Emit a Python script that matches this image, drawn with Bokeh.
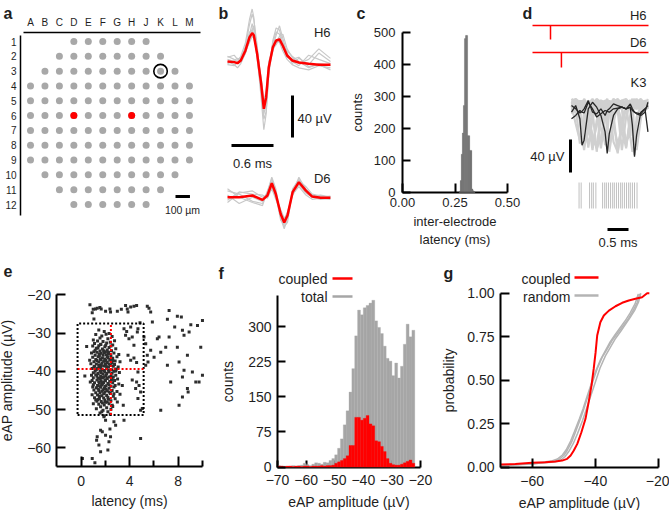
from bokeh.plotting import figure
from bokeh.models import Range1d, LinearAxis, FixedTicker, Label, PrintfTickFormatter
from bokeh.layouts import row, column
from bokeh.embed import file_html
from bokeh.resources import INLINE

FONT = "Liberation Sans"
INK = "#1e1e1e"
RED = "#ff0000"

# ---------------- data: panel a (MEA layout) ----------------
mea_columns = ["A", "B", "C", "D", "E", "F", "G", "H", "J", "K", "L", "M"]
mea_rows = [1, 2, 3, 4, 5, 6, 7, 8, 9, 10, 11, 12]
row_first_col = [3, 2, 1, 0, 0, 0, 0, 0, 0, 1, 2, 3]
row_last_col = [8, 9, 10, 11, 11, 11, 11, 11, 11, 10, 9, 8]
stim_sites = [("D", 6), ("H", 6)]
ref_site = ("K", 3)
pitch_um = 100
scalebar_um = 100

# ---------------- data: panel b (waveforms) ----------------
h6_t = [0.0, 0.095, 0.143, 0.19, 0.257, 0.314, 0.352, 0.376, 0.424, 0.481, 0.519, 0.552,
        0.59, 0.648, 0.695, 0.743, 0.79, 0.852, 0.924, 1.019, 1.16, 1.305, 1.471]
h6_mean = [0, -0.6, -1.6, 1, 10.5, 23, 27, 25, 7, -21, -45, -34, -5.4, 13.6, 20, 21, 15, 5.7, 1, -1, -2.2, -3, -3]
h6_trials = [
    [2, 0, -2, 3, 15, 35, 45, 40, 15, -25, -55, -48, -10, 20, 32, 30, 18, 6, 0, -4, 6, 2, -2],
    [-3, -4, -1, 0, 8, 20, 30, 34, 12, -18, -40, -30, 0, 12, 16, 22, 18, 10, 5, 0, -6, -2, -4],
    [5, 2, 0, 5, 18, 40, 50, 42, 5, -35, -65, -50, -12, 15, 25, 34, 22, 8, -2, 3, -3, 8, 0],
    [0, -3, -6, -2, 8, 25, 36, 30, 2, -28, -50, -40, -5, 10, 20, 18, 10, 2, -3, -6, -8, -4, -6],
    [-2, 1, 3, 1, 12, 28, 30, 25, 6, -15, -38, -28, -2, 14, 18, 24, 26, 12, 4, -2, 2, 12, 3],
    [4, 6, 2, 4, 10, 18, 24, 22, 10, -20, -45, -40, -8, 18, 28, 26, 14, 4, 2, 4, -5, -3, -8],
]
d6_t = [0, 0.167, 0.357, 0.5, 0.57, 0.633, 0.69, 0.76, 0.81, 0.857, 0.93, 1.02, 1.12, 1.21, 1.33, 1.47]
d6_mean = [0, 0, 1.6, -2.5, 1.6, 13.3, 3, -16, -24, -17.5, 4.8, 14.3, 6.3, 0.6, -0.6, -0.6]
d6_trials = [
    [6, 3, -4, -6, 4, 18, 5, -20, -30, -20, 8, 17, 8, 2, 0, 1],
    [-5, 4, 6, 0, 2, 10, 0, -12, -20, -15, 2, 12, 4, 0, -2, -1],
    [2, -6, 0, -4, 5, 19, 8, -18, -28, -24, 6, 16, 10, 3, 1, 0],
    [-3, 5, 3, 2, -1, 8, -2, -14, -22, -14, 3, 10, 2, -2, -1, -2],
    [8, 0, -5, -8, 6, 15, 2, -22, -26, -18, 4, 19, 7, 1, 2, 0],
]

# ---------------- data: panel c (latency histogram) ----------------
c_latency = [0.2725, 0.2775, 0.2825, 0.2875, 0.2925, 0.2975, 0.3025, 0.3075, 0.3125, 0.3175,
             0.3225, 0.3275, 0.3325, 0.3375, 0.3425]
c_counts = [5, 38, 120, 186, 272, 480, 490, 490, 178, 178, 132, 132, 12, 6, 4]
c_bin = 0.005

# ---------------- data: panel d (spike-triggered traces) ----------------
h6_spike_t = -0.50
d6_spike_t = -0.24
k3_t = [0.0, 0.1, 0.2, 0.25, 0.3, 0.4, 0.5, 0.6, 0.7, 0.8, 0.85, 0.9, 1.0, 1.1, 1.2, 1.3,
        1.4, 1.45, 1.5, 1.55, 1.65, 1.75, 1.82]
k3_gray = [
    [8, 4, -40, -30, -5, 6, 10, 4, 8, 2, 6, 10, 4, 8, 6, 12, 4, 8, 2, 6, 4, 10, 8],
    [2, 8, 4, 6, 0, -45, -10, 6, 10, 4, 8, 6, 2, 10, 8, 4, 6, 2, 8, 4, 10, 6, 2],
    [-4, 2, 6, 2, 8, -10, -48, -12, 4, 8, 2, 6, 10, 4, 2, 8, 10, 6, 4, 8, 2, 4, 6],
    [6, 10, 2, 8, 4, 8, 0, -50, -8, 6, 4, 2, 8, 6, 10, 4, 2, 6, 10, 4, 6, 8, 4],
    [10, 4, 8, 10, 6, 2, 8, 4, 0, -42, -30, 0, 8, 4, 6, 10, 6, 4, 2, 8, 10, 4, 6],
    [0, 6, 10, 4, 2, 10, 6, 8, 6, 2, -20, -50, -15, 8, 4, 6, 8, 10, 6, 2, 8, 6, 10],
    [4, 2, 6, 8, 10, 4, 2, 10, 4, 8, 6, 4, -5, -52, -10, 6, 2, 8, 4, 10, 2, 8, 4],
    [8, 10, 4, 2, 6, 6, 4, 2, 8, 6, 10, 8, 4, 0, -48, -8, 10, 4, 8, 6, 4, 2, 8],
    [2, 4, 8, 6, 10, 2, 10, 6, 2, 10, 4, 6, 8, 6, 2, -46, -6, 6, 10, 4, 8, 10, 2],
    [6, 8, 2, 4, 6, 10, 4, 8, 6, 4, 8, 2, 6, 10, 8, 2, 4, -20, -54, -15, 6, 4, 8],
    [10, 2, 4, -30, -48, -4, 8, 6, 2, 6, 8, 4, 10, 2, 6, 8, 6, 2, 4, 10, 6, 8, 2],
    [4, 6, 10, 6, 2, 6, 8, 2, -46, -10, 6, 8, 2, 6, 10, 2, 8, 4, 6, 2, 4, 6, 10],
    [12, 8, 2, -20, -42, -12, 4, 10, 6, 12, 4, 8, 12, 6, 4, 10, 12, 8, 6, 12, 8, 4, 12],
    [0, -2, 6, 4, 8, 0, -35, -44, -6, 4, 8, 12, 6, 2, 8, 6, 4, 12, 8, 6, 12, 10, 4],
    [6, 12, 8, 10, 4, 12, 6, 4, 10, -30, -46, -40, -4, 10, 6, 4, 10, 6, 12, 4, 6, 12, 8],
    [8, 4, 12, 6, 10, 6, 12, 8, 4, 6, 2, 8, -38, -50, -20, 4, 8, 12, 6, 8, 4, 6, 10],
    [4, 10, 6, 12, 8, 4, 8, 12, 6, 10, 6, 4, 8, 12, 6, 8, -32, -50, -44, -8, 6, 10, 6],
    [10, 6, -8, -36, -20, 8, 4, 10, 12, 6, 8, 12, 4, 8, -26, -44, -10, 6, 4, 12, 10, 6, 8],
    [14, 10, 6, 12, 2, -24, -40, -18, 8, 12, 10, 6, 14, 10, 12, 6, 10, 14, 8, 10, 14, 8, 12],
    [2, 6, 12, 8, 14, 6, 10, 2, -22, -38, -12, 6, 10, 14, 8, 12, 6, 10, 14, 6, 10, 2, 6],
    [6, -16, -36, -28, 0, 12, 8, 14, 10, 6, 12, 10, -18, -40, -24, 8, 12, 6, 10, 14, 6, 12, 10],
    [12, 14, 10, 6, 12, 8, 14, 6, 12, 10, 14, 8, 10, 6, 12, 14, 8, 12, -30, -48, -10, 8, 14],
    [4, 0, -12, -34, -44, -26, -2, 8, 4, 10, 6, 2, 8, 4, -14, -36, -30, 0, 8, 4, 10, 6, 2],
    [8, 12, 4, 10, 6, -8, -30, -46, -34, -6, 8, 4, 12, 8, 6, 10, 4, -10, -38, -42, -6, 8, 12],
]
k3_black = [
    [-2, 6, -10, -42, -36, 2, 10, 4, -6, -26, -52, -28, -6, 2, 4, 2, 4, -18, -56, -30, -2, 2, -26],
    [-10, -6, 0, -2, -3, 10, 2, -8, -4, 0, -1, -2, 2, 3, 4, 2, 8, 2, -2, -3, -4, 2, 6],
    [6, 2, -3, -1, 2, 12, -2, -4, 2, -6, 0, 2, 8, 6, 4, 2, 4, 0, -2, -4, -6, -2, 10],
]
k3_spike_times = [0.18, 0.23, 0.43, 0.48, 0.52, 0.58, 0.74, 0.79, 0.83, 0.88, 0.93, 0.98,
                  1.02, 1.07, 1.12, 1.17, 1.21, 1.26, 1.31, 1.36, 1.40, 1.45, 1.50, 1.56]

# ---------------- data: panel e (latency vs amplitude) ----------------
e_core = [
    (1.45, -29.2), (1.9, -29.6), (2.3, -30.1), (1.2, -30.4), (1.7, -30.8), (2.05, -30.3), (2.55, -30.9),
    (1.55, -31.3), (2.2, -31.5), (1.0, -31.8), (1.35, -32.1), (1.8, -32.2), (2.4, -32.4), (2.75, -32.0),
    (1.1, -32.7), (1.6, -32.9), (2.1, -32.6), (2.6, -33.1), (0.95, -33.4), (1.45, -33.3), (1.95, -33.6),
    (2.3, -33.8), (1.25, -34.0), (1.75, -34.2), (2.15, -34.4), (2.85, -34.1), (1.55, -34.7), (2.5, -34.6),
    (1.05, -34.9), (2.0, -34.9), (0.85, -35.2), (1.3, -35.0), (1.65, -35.3), (1.9, -35.1), (2.25, -35.4),
    (2.7, -35.2), (3.1, -35.6), (1.15, -35.8), (1.5, -35.9), (2.05, -35.7), (2.45, -36.0), (0.95, -36.3),
    (1.4, -36.2), (1.75, -36.5), (2.2, -36.4), (2.6, -36.6), (2.95, -36.2), (1.2, -36.9), (1.6, -37.0),
    (1.95, -36.8), (2.35, -37.1), (2.8, -37.3), (1.05, -37.5), (1.45, -37.6), (1.85, -37.4), (2.15, -37.7),
    (2.55, -37.8), (3.2, -37.5), (0.8, -38.0), (1.25, -38.1), (1.65, -38.3), (2.0, -38.0), (2.4, -38.4),
    (2.75, -38.2), (1.1, -38.7), (1.5, -38.8), (1.85, -38.6), (2.25, -38.9), (2.65, -38.7), (3.05, -38.9),
    (0.9, -39.3), (1.35, -39.2), (1.7, -39.5), (2.1, -39.3), (2.5, -39.6), (2.9, -39.4), (1.15, -40.0),
    (1.55, -39.9), (1.95, -40.1), (2.3, -40.2), (2.7, -40.0), (3.15, -40.3), (1.4, -40.6), (1.8, -40.7),
    (0.85, -41.0), (1.2, -40.9), (1.6, -41.2), (2.05, -41.1), (2.45, -41.3), (2.85, -41.0), (1.0, -41.7),
    (1.4, -41.8), (1.75, -41.6), (2.15, -41.9), (2.55, -41.8), (3.0, -42.0), (0.9, -42.4), (1.3, -42.3),
    (1.65, -42.5), (1.95, -42.2), (2.35, -42.6), (2.75, -42.4), (1.1, -43.0), (1.5, -43.1), (1.85, -42.9),
    (2.2, -43.2), (2.6, -43.0), (3.1, -43.3), (1.35, -43.7), (1.7, -43.6), (2.05, -43.8), (2.45, -43.9),
    (0.95, -44.1), (1.25, -44.3), (1.6, -44.2), (1.9, -44.5), (2.3, -44.4), (2.7, -44.1), (1.05, -44.9),
    (1.45, -45.0), (1.8, -44.8), (2.15, -45.1), (2.55, -45.0), (2.95, -45.3), (1.2, -45.6), (1.55, -45.7),
    (1.95, -45.5), (2.4, -45.8), (0.9, -46.1), (1.35, -46.2), (1.7, -46.4), (2.1, -46.3), (2.65, -46.5),
    (3.2, -46.0), (1.1, -46.9), (1.5, -47.1), (1.85, -47.0), (2.25, -47.3), (2.8, -47.2), (1.3, -47.8),
    (1.65, -47.9), (2.0, -48.1), (2.45, -47.7), (1.0, -48.5), (1.45, -48.6), (1.9, -48.8), (2.3, -48.5),
    (1.6, -49.3), (2.1, -49.5), (2.6, -49.2), (1.25, -49.8), (1.8, -50.2), (2.2, -50.6), (1.55, -50.9),
    (2.4, -51.2), (1.9, -51.6),
    (1.62, -33.0), (2.02, -33.2), (1.38, -33.9), (2.45, -33.4), (1.85, -34.6), (2.25, -35.0), (1.48, -35.5),
    (1.8, -35.8), (2.15, -36.1), (1.58, -36.7), (2.05, -37.2), (2.4, -36.9), (1.3, -37.2), (1.72, -37.8),
    (2.3, -38.1), (1.45, -38.4), (2.05, -38.6), (1.6, -39.0), (1.9, -39.8), (2.25, -39.7), (1.25, -39.6),
    (2.55, -40.5), (2.1, -40.6), (1.65, -40.3), (1.3, -41.3), (1.9, -41.4), (2.3, -41.5), (1.55, -41.9),
    (2.0, -42.5), (1.45, -42.7), (2.5, -42.2), (1.75, -43.2), (2.3, -43.5), (1.6, -43.9), (1.95, -44.0),
    (1.4, -44.6), (2.05, -44.7), (1.7, -45.2), (2.3, -45.4), (1.85, -45.9), (1.5, -46.6), (2.2, -46.8),
    (1.95, -47.5), (1.75, -48.3), (2.15, -48.0), (1.38, -47.4), (2.7, -45.9), (2.8, -43.7), (2.65, -41.5),
    (2.85, -39.9), (2.6, -37.2), (1.0, -40.4), (1.05, -38.9), (0.75, -42.8), (0.7, -37.1), (1.15, -34.5),
    (1.0, -43.5), (1.2, -47.5), (2.45, -49.9), (1.7, -50.6),
]
e_sparse = [
    (0.72, -22.6), (0.99, -23.8), (1.18, -23.7), (1.32, -23.5), (1.54, -23.3), (1.65, -23.7), (0.91, -24.7),
    (1.05, -26.3), (2.01, -24.3), (2.37, -23.7), (2.42, -24.5), (2.98, -24.3), (3.31, -23.8), (3.66, -22.8),
    (3.80, -23.7), (3.86, -24.5), (4.08, -23.2), (4.35, -23.0), (4.57, -22.8), (5.45, -23.0), (5.59, -23.5),
    (5.73, -24.5), (7.25, -24.1), (7.11, -26.4), (7.93, -25.6), (8.26, -25.8), (5.87, -27.1), (4.85, -27.3),
    (4.68, -28.9), (4.63, -29.7), (4.08, -28.4), (3.94, -31.5), (3.66, -30.6), (3.75, -29.6), (3.53, -28.9),
    (4.21, -31.0), (4.35, -33.2), (3.86, -35.8), (4.08, -37.1), (4.35, -36.5), (4.57, -37.7), (4.68, -40.2),
    (4.77, -43.7), (4.57, -42.8), (4.90, -45.4), (4.68, -47.1), (4.49, -44.5), (4.21, -42.3), (3.39, -43.7),
    (3.47, -48.9), (2.98, -48.0), (2.56, -48.9), (3.53, -52.8), (4.90, -50.2), (5.04, -49.7), (4.90, -57.6),
    (5.18, -31.0), (5.32, -32.8), (5.45, -35.8), (5.73, -34.5), (5.51, -37.6), (5.32, -38.4), (6.01, -36.3),
    (6.28, -31.5), (6.42, -31.0), (6.56, -35.0), (6.97, -33.7), (7.11, -38.4), (7.38, -42.8), (7.25, -31.0),
    (7.71, -28.4), (7.93, -33.7), (8.35, -29.3), (8.48, -30.6), (8.90, -29.7), (9.04, -27.8), (9.59, -28.0),
    (10.0, -26.7), (9.86, -33.7), (10.0, -41.0), (9.72, -42.8), (9.45, -42.8), (9.17, -40.2), (8.48, -39.7),
    (8.35, -41.5), (8.07, -37.6), (8.76, -44.5), (8.82, -45.4), (8.35, -46.7), (8.07, -48.9), (6.56, -50.2),
    (8.76, -35.8), (1.87, -51.9), (2.01, -52.8), (1.60, -55.4), (1.74, -55.8), (1.32, -57.1), (1.27, -58.0),
    (2.01, -56.7), (2.42, -57.1), (2.29, -58.4), (1.46, -59.3), (1.60, -61.0), (2.20, -60.6), (0.91, -62.8),
    (2.37, -55.1), (2.70, -53.2), (2.84, -54.1), (0.10, -62.8), (1.13, -63.9), (0.45, -33.5), (0.3, -41.2),
]
e_box_lat = [-0.30, 5.15]
e_box_amp = [-51.4, -27.5]
e_median_lat = 2.45
e_median_amp = -39.4

# ---------------- data: panel f (amplitude histograms) ----------------
f_bin_left = list(range(-70, -22))
f_total = [3, 2, 2, 1, 2, 3, 2, 3, 4, 8, 5, 3, 6, 9, 8, 6, 10, 9, 14, 18, 26, 40, 60, 90,
           120, 160, 210, 280, 335, 325, 340, 345, 350, 356, 312, 298, 285, 258, 232, 226,
           195, 222, 190, 215, 262, 305, 278, 292]
f_coupled = [2, 2, 1, 2, 2, 1, 2, 2, 1, 2, 2, 1, 2, 2, 2, 3, 2, 3, 3, 4, 8, 11, 14, 18,
             24, 46, 46, 106, 106, 100, 104, 110, 92, 88, 56, 54, 44, 33, 18, 8,
             5, 4, 4, 6, 9, 12, 15, 8]

# ---------------- data: panel g (cumulative distributions) ----------------
g_coupled_x = [-70, -65.3, -60, -55.8, -52.6, -50.5, -48.9, -47.8, -46.8, -45.7, -44.4, -43.1, -42.1,
               -41.2, -40.5, -39.9, -39.4, -38.4, -37.3, -35.7, -33.6, -31.5, -29.4, -27.3, -25.2, -23.6, -22.9]
g_coupled_p = [0.015, 0.019, 0.025, 0.029, 0.033, 0.038, 0.048, 0.067, 0.096, 0.134, 0.201, 0.278, 0.374,
               0.47, 0.566, 0.661, 0.757, 0.833, 0.872, 0.9, 0.925, 0.945, 0.958, 0.968, 0.977, 1.0, 1.0]
g_random_x = [
    [-70, -60, -53.6, -51.5, -50.0, -48.9, -47.5, -46.3, -44.7, -43.6, -42.6, -41.5, -40.5, -39.4,
     -37.8, -36.2, -34.7, -33.1, -31.5, -29.9, -28.3, -26.7, -26.0],
    [-70, -60, -53.0, -51.0, -49.6, -48.4, -47.0, -45.7, -44.0, -42.9, -41.8, -40.7, -39.6, -38.5,
     -36.8, -35.2, -33.6, -32.0, -30.5, -29.0, -27.6, -26.3, -25.6],
    [-70, -60, -54.0, -52.0, -50.4, -49.2, -47.8, -46.6, -45.0, -43.9, -42.9, -41.9, -40.9, -39.8,
     -38.3, -36.8, -35.3, -33.8, -32.2, -30.6, -29.0, -27.4, -26.4],
]
g_random_p = [
    [0.01, 0.018, 0.033, 0.044, 0.067, 0.096, 0.144, 0.201, 0.278, 0.336, 0.393, 0.45, 0.508, 0.566,
     0.632, 0.68, 0.728, 0.766, 0.805, 0.843, 0.891, 0.948, 0.997],
    [0.01, 0.02, 0.03, 0.04, 0.06, 0.09, 0.135, 0.19, 0.27, 0.33, 0.39, 0.45, 0.51, 0.57,
     0.64, 0.69, 0.74, 0.78, 0.82, 0.86, 0.9, 0.95, 1.0],
    [0.012, 0.02, 0.035, 0.047, 0.07, 0.1, 0.15, 0.205, 0.28, 0.335, 0.39, 0.445, 0.5, 0.555,
     0.62, 0.67, 0.72, 0.76, 0.8, 0.84, 0.885, 0.94, 0.995],
]


# ---------------- helpers ----------------
class Map:
    """linear map between a data value and a page pixel"""
    def __init__(self, va, pa, vb, pb):
        self.va, self.pa = va, pa
        self.s = (pb - pa) / (vb - va)

    def __call__(self, p):
        return self.va + (p - self.pa) / self.s


def panel(X, Y, x0, x1, y0, y1):
    p = figure(width=x1 - x0, height=y1 - y0,
               x_range=Range1d(X(x0), X(x1)), y_range=Range1d(Y(y1), Y(y0)),
               x_axis_type=None, y_axis_type=None, toolbar_location=None,
               output_backend="svg", min_border=0, outline_line_color=None,
               background_fill_color="white", border_fill_color="white")
    return p


def axis(p, side, loc, bounds, ticks, tick_in=8, minor=None, minor_in=5, overrides=None,
         fmt=None, label=None, fs="14px", lfs="14px", standoff=6, label_standoff=6, lw=2,
         level=None):
    ax = LinearAxis(fixed_location=loc, bounds=bounds,
                    ticker=FixedTicker(ticks=ticks, minor_ticks=minor or []))
    ax.axis_line_width = lw
    ax.axis_line_color = "black"
    ax.major_tick_in = tick_in
    ax.major_tick_out = 0
    ax.major_tick_line_width = lw
    ax.minor_tick_in = minor_in
    ax.minor_tick_out = 0
    ax.minor_tick_line_width = lw
    if not minor:
        ax.minor_tick_line_color = None
    if tick_in == 0:
        ax.major_tick_line_color = None
    ax.major_label_text_font = FONT
    ax.major_label_text_font_size = fs
    ax.major_label_text_color = INK
    ax.major_label_standoff = standoff
    if fmt:
        ax.formatter = PrintfTickFormatter(format=fmt)
    if overrides:
        ax.major_label_overrides = overrides
    if label:
        ax.axis_label = label
        ax.axis_label_text_font = FONT
        ax.axis_label_text_font_size = lfs
        ax.axis_label_text_font_style = "normal"
        ax.axis_label_text_color = INK
        ax.axis_label_standoff = label_standoff
    if level:
        ax.level = level
    p.add_layout(ax, side)
    return ax


def text(p, x, y, s, size="13px", align="left", baseline="middle", bold=False):
    p.add_layout(Label(x=x, y=y, text=s, text_font=FONT, text_font_size=size,
                       text_align=align, text_baseline=baseline, text_color=INK,
                       text_font_style="bold" if bold else "normal"))


def letter(p, x, y, s):
    text(p, x, y, s, size="16px", baseline="top", bold=True)


# ---------------- panel a ----------------
AX = Map(0, 30, 11, 30 + 11 * 14.45)
AY = Map(1, 41, 12, 204)
pa = panel(AX, AY, 0, 205, 0, 253)
ex, ey = [], []
for r, c0, c1 in zip(mea_rows, row_first_col, row_last_col):
    for c in range(c0, c1 + 1):
        ex.append(c)
        ey.append(r)
pa.scatter(ex, ey, size=7, fill_color="#a8a8a8", line_color=None)
pa.scatter([mea_columns.index(c) for c, _ in stim_sites], [r for _, r in stim_sites],
           size=7, fill_color=RED, line_color=None)
pa.scatter([mea_columns.index(ref_site[0])], [ref_site[1]], size=13.5, fill_color=None,
           line_color="black", line_width=1.6)
axis(pa, "above", AY(32), (AX(23), AX(200)), list(range(len(mea_columns))), tick_in=0,
     overrides={i: c for i, c in enumerate(mea_columns)}, fs="10px", standoff=5, lw=1.5)
axis(pa, "left", AX(20), (AY(35), AY(215)), mea_rows, tick_in=0,
     overrides={r: str(r) for r in mea_rows}, fs="10px", standoff=4, lw=1.5)
sb0 = AX(175)
pa.line([sb0, sb0 + scalebar_um / pitch_um], [AY(196), AY(196)], line_width=3, line_color="black")
text(pa, AX(182), AY(209), "100 µm", size="10.5px", align="center")
letter(pa, AX(3), AY(4), "a")

# ---------------- panel b ----------------
BX = Map(0, 227, 1, 297)
BY = Map(0, 61, 40, 61 - 42)
pb = panel(BX, BY, 205, 344, 0, 253)
d6_off = BY(196.7)
pb.multi_line([h6_t] * len(h6_trials), h6_trials, line_color="#c8c8c8", line_width=1.2)
pb.line(h6_t, h6_mean, line_color=RED, line_width=2.5)
pb.multi_line([d6_t] * len(d6_trials), [[v + d6_off for v in tr] for tr in d6_trials],
              line_color="#c8c8c8", line_width=1.2)
pb.line(d6_t, [v + d6_off for v in d6_mean], line_color=RED, line_width=2.5)
pb.line([BX(292)] * 2, [BY(137), BY(137) + 40], line_width=3, line_color="black")
pb.line([BX(231), BX(231) + 0.6], [BY(145)] * 2, line_width=3, line_color="black")
text(pb, BX(297), BY(118), "40 µV")
text(pb, BX(252), BY(163), "0.6 ms", align="center")
text(pb, BX(330), BY(32), "H6", align="right")
text(pb, BX(330), BY(178), "D6", align="right")
letter(pb, BX(218), BY(4), "b")

# ---------------- panel c ----------------
CX = Map(0, 402, 0.25, 454.5)
CY = Map(0, 192.3, 500, 31.7)
pc = panel(CX, CY, 344, 522, 0, 253)
pc.vbar(x=c_latency, width=c_bin, top=c_counts, fill_color="#666666",
        line_color="#666666", line_width=0.3)
axis(pc, "left", 0, (0, 500), [0, 100, 200, 300, 400, 500], tick_in=8, fs="13px", lfs="13px",
     label="counts", standoff=7, label_standoff=6)
axis(pc, "below", 0, (0, 0.5), [0, 0.25, 0.5], tick_in=9, fmt="%.2f", fs="13px", lfs="13px",
     label="inter-electrode\nlatency (ms)", standoff=5, label_standoff=4, level="underlay")
letter(pc, CX(356), CY(4), "c")

# ---------------- panel d ----------------
DX = Map(0, 571, 1, 613)
DY = Map(0, 110, 40, 110 - 33)
pd = panel(DX, DY, 522, 669, 0, 253)
y_h6, y_d6 = DY(25), DY(52)
pd.line([DX(532), DX(648)], [y_h6, y_h6], line_color=RED, line_width=1.5)
pd.line([h6_spike_t] * 2, [y_h6, DY(39)], line_color=RED, line_width=1.5)
pd.line([DX(532), DX(648)], [y_d6, y_d6], line_color=RED, line_width=1.5)
pd.line([d6_spike_t] * 2, [y_d6, DY(67)], line_color=RED, line_width=1.5)
pd.multi_line([k3_t] * len(k3_gray), k3_gray, line_color="#d0d0d0", line_width=2.2)
pd.multi_line([k3_t] * len(k3_black), k3_black, line_color="#262626", line_width=1.3)
pd.segment(x0=k3_spike_times, y0=[DY(182)] * len(k3_spike_times),
           x1=k3_spike_times, y1=[DY(208)] * len(k3_spike_times),
           line_color="#c0c0c0", line_width=1)
pd.line([DX(570)] * 2, [DY(172), DY(172) + 40], line_width=3, line_color="black")
pd.line([DX(607), DX(607) + 0.5], [DY(229)] * 2, line_width=3, line_color="black")
text(pd, DX(646), DY(15), "H6", align="right")
text(pd, DX(646), DY(42), "D6", align="right")
text(pd, DX(646), DY(82), "K3", align="right")
text(pd, DX(564), DY(156), "40 µV", align="right")
text(pd, DX(617.5), DY(242), "0.5 ms", align="center")
letter(pd, DX(522), DY(4), "d")

# ---------------- panel e ----------------
EX = Map(0, 80.7, 8, 177.7)
EY = Map(-20, 294.3, -60, 447.3)
pe = panel(EX, EY, 0, 215, 253, 510)
pts = e_core + e_sparse
pe.scatter([q[0] for q in pts], [q[1] for q in pts], marker="square", size=3.0,
           fill_color="#2e2e2e", line_color=None)
bx0, bx1 = e_box_lat
by0, by1 = e_box_amp
pe.line([bx0, bx1, bx1, bx0, bx0], [by0, by0, by1, by1, by0], line_color="black",
        line_width=2, line_dash="2 2")
pe.line([e_median_lat] * 2, [by0, by1], line_color=RED, line_width=2, line_dash="2 2")
pe.line([bx0, bx1], [e_median_amp] * 2, line_color=RED, line_width=2, line_dash="2 2")
axis(pe, "left", -2, (-65, -20), [-60, -50, -40, -30, -20], tick_in=9,
     label="eAP amplitude (µV)", standoff=6, label_standoff=9)
axis(pe, "below", -65, (-2, 10), [0, 4, 8], minor=[2, 6, 10], tick_in=10, minor_in=6,
     label="latency (ms)", standoff=9, label_standoff=4)
letter(pe, EX(3), EY(264), "e")

# ---------------- panel f ----------------
FX = Map(-70, 277, -20, 420)
FY = Map(0, 466.5, 300, 326)
pf = panel(FX, FY, 215, 440, 253, 510)
centers = [b + 0.5 for b in f_bin_left]
pf.vbar(x=centers, width=1, top=f_total, fill_color="#a6a6a6", line_color="#a6a6a6", line_width=0.3)
pf.vbar(x=centers, width=1, top=f_coupled, fill_color=RED, line_color=RED, line_width=0.3)
axis(pf, "left", -70, (0, 366), [0, 75, 150, 225, 300], tick_in=8,
     label="counts", standoff=6, label_standoff=9)
axis(pf, "below", 0, (-70, -20), [-70, -60, -50, -40, -30, -20], tick_in=7,
     label="eAP amplitude (µV)", standoff=8, label_standoff=5, level="underlay")
text(pf, FX(327), FY(278), "coupled", size="14px", align="right")
pf.line([FX(332), FX(352)], [FY(278)] * 2, line_color=RED, line_width=2.5)
text(pf, FX(327), FY(296), "total", size="14px", align="right")
pf.line([FX(332), FX(352)], [FY(296)] * 2, line_color="#a6a6a6", line_width=2.5)
letter(pf, FX(218), FY(264), "f")

# ---------------- panel g ----------------
GX = Map(-70, 500, -20, 658)
GY = Map(0, 466.7, 1, 292.7)
pg = panel(GX, GY, 440, 669, 253, 510)
pg.multi_line(g_random_x, g_random_p, line_color="#b4b4b4", line_width=1.5)
pg.line(g_coupled_x, g_coupled_p, line_color=RED, line_width=2)
axis(pg, "left", -70, (0, 1), [0, 0.25, 0.5, 0.75, 1.0], tick_in=9, fmt="%.2f",
     label="probability", standoff=6, label_standoff=7)
axis(pg, "below", 0, (-70, -20), [-60, -40, -20], tick_in=9,
     label="eAP amplitude (µV)", standoff=9, label_standoff=5)
text(pg, GX(570), GY(278), "coupled", size="14px", align="right")
pg.line([GX(574), GX(598)], [GY(277)] * 2, line_color=RED, line_width=2.5)
text(pg, GX(570), GY(296), "random", size="14px", align="right")
pg.line([GX(574), GX(598)], [GY(295)] * 2, line_color="#b4b4b4", line_width=2.5)
letter(pg, GX(443), GY(264), "g")

layout = column(row(pa, pb, pc, pd), row(pe, pf, pg))
open("out.html", "w").write(file_html(layout, INLINE))
